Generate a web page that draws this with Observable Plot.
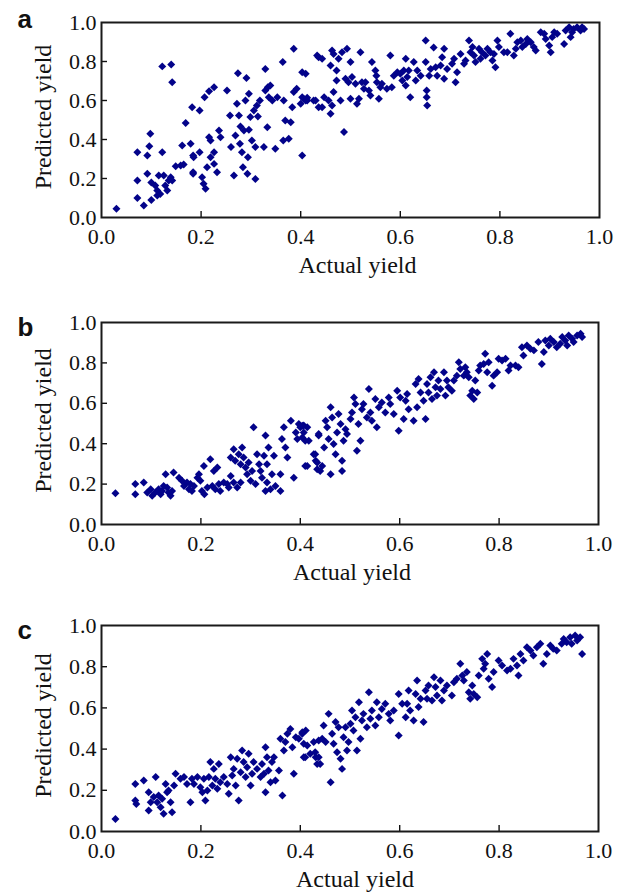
<!DOCTYPE html>
<html>
<head>
<meta charset="utf-8">
<script src="https://cdn.jsdelivr.net/npm/d3@7"></script>
<script src="https://cdn.jsdelivr.net/npm/@observablehq/plot@0.6"></script>
<style>
  html, body { margin: 0; padding: 0; background: #fff; }
  #wrap { position: relative; width: 623px; height: 892px; overflow: hidden; }
  .panel { position: absolute; left: 0; }
</style>
</head>
<body>
<div id="wrap"></div>
<script>
// ---------- data ----------
const tickValues = [0, 0.2, 0.4, 0.6, 0.8, 1.0];
const xTitle = "Actual yield";
const yTitle = "Predicted yield";
const panelLetters = ["a", "b", "c"];

const aActual = [0.03,0.072,0.072,0.072,0.085,0.092,0.092,0.098,0.096,0.10,0.10,0.108,0.112,0.115,0.122,0.122,0.14,0.142,0.125,0.128,0.132,0.135,0.139,0.142,0.112,0.118,0.149,0.159,0.165,0.162,0.169,0.179,0.182,0.184,0.184,0.184,0.185,0.197,0.197,0.202,0.205,0.209,0.207,0.216,0.226,0.216,0.219,0.212,0.219,0.226,0.232,0.236,0.239,0.226,0.252,0.258,0.26,0.266,0.269,0.272,0.274,0.276,0.278,0.279,0.282,0.284,0.291,0.286,0.289,0.293,0.296,0.294,0.299,0.296,0.302,0.306,0.309,0.312,0.309,0.314,0.318,0.326,0.329,0.329,0.333,0.334,0.336,0.339,0.343,0.349,0.353,0.364,0.366,0.365,0.369,0.376,0.38,0.383,0.386,0.386,0.392,0.40,0.403,0.406,0.41,0.413,0.43,0.433,0.436,
  0.403,0.403,0.41,0.413,0.426,0.436,0.443,0.443,0.447,0.456,0.46,0.463,0.46,0.463,0.466,0.466,0.472,0.472,0.476,0.48,0.483,0.487,0.49,0.493,0.496,0.50,0.50,0.503,0.51,0.513,0.517,0.52,0.523,0.527,0.53,0.537,0.54,0.543,0.55,0.552,0.553,0.557,0.56,0.563,0.573,0.58,0.583,0.587,0.594,0.60,0.604,0.607,0.611,0.611,0.614,0.617,0.62,0.627,0.631,0.634,0.641,0.651,0.651,0.653,0.653,0.654,0.658,0.661,0.667,0.671,0.674,0.681,0.684,0.688,0.688,0.694,0.704,0.708,0.711,0.714,0.721,0.728,0.731,0.738,0.741,0.745,0.748,0.751,0.758,0.761,0.764,0.771,0.775,0.781,0.785,0.788,0.791,0.795,0.798,0.808,0.815,0.821,0.828,0.832,0.835,0.842,0.845,0.852,0.855,0.862,0.868,0.872,0.882,0.889,0.892,0.899,0.902,0.905,0.909,0.915,0.929,0.932,0.939,0.942,0.945,0.948,0.955,0.962,0.965,0.969];
const aPredicted = [0.045,0.335,0.19,0.10,0.062,0.224,0.318,0.43,0.366,0.18,0.09,0.164,0.113,0.215,0.335,0.775,0.785,0.694,0.215,0.164,0.138,0.19,0.207,0.19,0.138,0.121,0.263,0.267,0.272,0.369,0.484,0.378,0.566,0.318,0.232,0.224,0.309,0.549,0.335,0.207,0.173,0.147,0.617,0.648,0.668,0.412,0.395,0.258,0.309,0.275,0.232,0.446,0.412,0.335,0.651,0.523,0.361,0.215,0.42,0.583,0.74,0.523,0.378,0.467,0.335,0.258,0.716,0.446,0.60,0.224,0.634,0.309,0.515,0.45,0.395,0.549,0.198,0.574,0.361,0.518,0.60,0.361,0.762,0.651,0.463,0.668,0.617,0.677,0.60,0.352,0.617,0.797,0.60,0.395,0.497,0.404,0.489,0.566,0.643,0.865,0.66,0.583,0.318,0.609,0.737,0.60,0.60,0.831,0.566,
  0.745,0.617,0.60,0.614,0.60,0.822,0.814,0.566,0.617,0.60,0.532,0.574,0.78,0.856,0.839,0.643,0.754,0.703,0.814,0.60,0.848,0.438,0.711,0.865,0.694,0.797,0.609,0.72,0.686,0.583,0.609,0.848,0.694,0.66,0.694,0.651,0.626,0.797,0.754,0.727,0.694,0.609,0.668,0.686,0.66,0.831,0.668,0.727,0.745,0.737,0.703,0.754,0.677,0.814,0.72,0.754,0.617,0.797,0.703,0.754,0.727,0.908,0.797,0.651,0.617,0.574,0.727,0.762,0.872,0.771,0.727,0.78,0.822,0.865,0.711,0.762,0.788,0.814,0.694,0.745,0.839,0.788,0.805,0.908,0.848,0.874,0.831,0.797,0.865,0.814,0.848,0.831,0.865,0.848,0.805,0.839,0.771,0.908,0.874,0.848,0.848,0.942,0.831,0.865,0.899,0.908,0.874,0.89,0.916,0.899,0.874,0.857,0.95,0.942,0.916,0.882,0.848,0.925,0.95,0.942,0.89,0.959,0.976,0.925,0.95,0.967,0.976,0.959,0.976,0.967];

const bActual = [0.028,0.068,0.068,0.085,0.092,0.099,0.102,0.108,0.115,0.119,0.122,0.125,0.129,0.132,0.135,0.139,0.142,0.145,0.156,0.162,0.166,0.172,0.176,0.179,0.182,0.186,0.193,0.196,0.199,0.202,0.206,0.207,0.213,0.219,0.223,0.226,0.229,0.233,0.236,0.239,0.246,0.253,0.256,0.26,0.26,0.266,0.266,0.269,0.273,0.276,0.28,0.28,0.283,0.286,0.29,0.293,0.296,0.30,0.303,0.306,0.31,0.313,0.317,0.32,0.323,0.327,0.33,0.33,0.333,0.333,0.336,0.34,0.343,0.347,0.35,0.36,0.36,0.363,0.367,0.37,0.374,0.381,0.387,0.391,0.394,0.397,0.40,0.404,0.407,0.41,0.414,0.417,0.427,0.431,0.434,0.437,
  0.404,0.407,0.41,0.414,0.43,0.434,0.437,0.44,0.444,0.448,0.451,0.454,0.457,0.461,0.461,0.464,0.467,0.471,0.474,0.477,0.481,0.484,0.484,0.487,0.491,0.494,0.501,0.504,0.508,0.511,0.514,0.517,0.521,0.524,0.527,0.534,0.538,0.541,0.544,0.551,0.554,0.558,0.564,0.571,0.578,0.581,0.588,0.595,0.598,0.601,0.608,0.612,0.615,0.618,0.628,0.632,0.635,0.638,0.642,0.648,0.652,0.655,0.658,0.662,0.665,0.669,0.672,0.675,0.678,0.682,0.689,0.692,0.695,0.698,0.705,0.709,0.715,0.719,0.722,0.729,0.732,0.735,0.739,0.742,0.746,0.749,0.752,0.756,0.759,0.762,0.769,0.772,0.776,0.779,0.786,0.789,0.796,0.799,0.806,0.813,0.819,0.823,0.833,0.839,0.846,0.849,0.856,0.863,0.87,0.879,0.886,0.89,0.893,0.90,0.903,0.91,0.916,0.923,0.927,0.933,0.937,0.94,0.947,0.95,0.957,0.964,0.967];
const bPredicted = [0.155,0.20,0.15,0.208,0.158,0.175,0.142,0.158,0.175,0.15,0.166,0.191,0.249,0.183,0.158,0.142,0.166,0.257,0.232,0.216,0.191,0.208,0.175,0.20,0.166,0.191,0.232,0.249,0.216,0.166,0.29,0.15,0.183,0.323,0.191,0.265,0.175,0.282,0.20,0.166,0.208,0.20,0.183,0.24,0.332,0.208,0.373,0.315,0.183,0.348,0.208,0.298,0.381,0.332,0.282,0.249,0.307,0.216,0.265,0.481,0.20,0.348,0.298,0.265,0.232,0.34,0.44,0.166,0.208,0.298,0.381,0.175,0.249,0.34,0.191,0.166,0.249,0.423,0.481,0.381,0.332,0.514,0.232,0.456,0.423,0.497,0.481,0.431,0.49,0.29,0.481,0.415,0.348,0.315,0.274,0.44,
  0.489,0.456,0.415,0.29,0.348,0.307,0.448,0.265,0.29,0.381,0.514,0.481,0.423,0.58,0.249,0.53,0.398,0.348,0.456,0.547,0.497,0.265,0.315,0.415,0.472,0.448,0.522,0.555,0.629,0.596,0.365,0.497,0.415,0.571,0.596,0.53,0.671,0.555,0.514,0.621,0.481,0.58,0.604,0.555,0.629,0.596,0.547,0.662,0.464,0.629,0.522,0.613,0.646,0.571,0.514,0.696,0.58,0.72,0.654,0.613,0.522,0.696,0.654,0.729,0.621,0.754,0.679,0.638,0.713,0.671,0.754,0.638,0.713,0.679,0.662,0.713,0.737,0.803,0.77,0.737,0.779,0.754,0.729,0.638,0.662,0.621,0.713,0.654,0.762,0.787,0.795,0.845,0.754,0.803,0.687,0.737,0.754,0.82,0.812,0.82,0.762,0.787,0.787,0.779,0.877,0.837,0.886,0.87,0.862,0.903,0.795,0.854,0.911,0.886,0.919,0.903,0.877,0.895,0.928,0.911,0.886,0.936,0.919,0.903,0.936,0.944,0.928];

const cActual = [0.028,0.068,0.068,0.07,0.085,0.095,0.095,0.099,0.105,0.109,0.112,0.115,0.119,0.122,0.125,0.129,0.132,0.135,0.139,0.142,0.146,0.149,0.159,0.166,0.172,0.179,0.182,0.186,0.193,0.199,0.203,0.206,0.209,0.213,0.216,0.219,0.223,0.226,0.229,0.233,0.236,0.239,0.246,0.253,0.256,0.26,0.263,0.266,0.27,0.273,0.276,0.28,0.283,0.286,0.29,0.293,0.296,0.30,0.303,0.306,0.313,0.32,0.323,0.327,0.33,0.33,0.333,0.336,0.34,0.343,0.347,0.35,0.357,0.36,0.364,0.367,0.37,0.374,0.38,0.384,0.387,0.391,0.397,0.404,0.407,0.411,0.414,0.42,0.427,0.431,0.434,0.437,
  0.404,0.407,0.41,0.43,0.437,0.44,0.444,0.447,0.451,0.457,0.461,0.464,0.467,0.471,0.474,0.477,0.481,0.484,0.487,0.491,0.494,0.497,0.501,0.504,0.507,0.511,0.514,0.518,0.521,0.524,0.527,0.534,0.538,0.541,0.544,0.551,0.554,0.558,0.564,0.571,0.578,0.581,0.588,0.598,0.598,0.605,0.612,0.615,0.618,0.621,0.628,0.632,0.635,0.638,0.642,0.648,0.652,0.655,0.658,0.665,0.669,0.672,0.675,0.682,0.685,0.689,0.695,0.705,0.709,0.715,0.722,0.726,0.729,0.735,0.739,0.742,0.746,0.749,0.756,0.759,0.766,0.769,0.772,0.776,0.779,0.786,0.789,0.799,0.806,0.816,0.823,0.829,0.836,0.839,0.843,0.849,0.856,0.863,0.869,0.876,0.883,0.889,0.896,0.903,0.909,0.916,0.926,0.93,0.936,0.943,0.946,0.953,0.957,0.963,0.967];
const cPredicted = [0.061,0.231,0.15,0.134,0.248,0.191,0.102,0.142,0.167,0.264,0.142,0.175,0.118,0.159,0.086,0.231,0.191,0.199,0.142,0.094,0.223,0.28,0.256,0.264,0.231,0.142,0.256,0.231,0.264,0.215,0.191,0.256,0.15,0.199,0.264,0.337,0.223,0.304,0.256,0.207,0.328,0.239,0.264,0.231,0.183,0.361,0.272,0.304,0.223,0.353,0.15,0.288,0.393,0.337,0.264,0.312,0.377,0.223,0.28,0.337,0.304,0.264,0.328,0.28,0.409,0.191,0.361,0.296,0.239,0.337,0.361,0.248,0.296,0.45,0.175,0.393,0.434,0.474,0.498,0.409,0.28,0.458,0.45,0.474,0.361,0.49,0.417,0.377,0.434,0.361,0.328,0.442,
  0.482,0.426,0.361,0.385,0.361,0.328,0.45,0.515,0.434,0.571,0.239,0.474,0.426,0.531,0.385,0.506,0.353,0.304,0.458,0.506,0.393,0.434,0.523,0.587,0.49,0.555,0.393,0.628,0.45,0.539,0.571,0.506,0.676,0.547,0.587,0.515,0.628,0.555,0.595,0.62,0.571,0.539,0.587,0.668,0.466,0.62,0.555,0.62,0.684,0.587,0.539,0.668,0.733,0.604,0.644,0.531,0.684,0.644,0.709,0.636,0.749,0.701,0.66,0.733,0.636,0.684,0.709,0.66,0.725,0.741,0.814,0.757,0.733,0.774,0.676,0.644,0.709,0.668,0.652,0.757,0.838,0.79,0.814,0.862,0.741,0.701,0.774,0.83,0.806,0.782,0.79,0.838,0.806,0.757,0.862,0.83,0.895,0.879,0.854,0.895,0.911,0.814,0.862,0.903,0.887,0.879,0.911,0.935,0.919,0.943,0.911,0.951,0.927,0.943,0.862];

// ---------- drawing ----------
const fmt = d3.format(".1f");
const markerColor = "#03038a";
const panels = [
  {letter: panelLetters[0], actual: aActual, predicted: aPredicted, top: 0,   height: 295, marginTop: 22, marginBottom: 78, marginRight: 24, letterDy: 5,  titleDx: 7},
  {letter: panelLetters[1], actual: bActual, predicted: bPredicted, top: 295, height: 300, marginTop: 27, marginBottom: 71, marginRight: 25, letterDy: 13, titleDx: 2},
  {letter: panelLetters[2], actual: cActual, predicted: cPredicted, top: 595, height: 297, marginTop: 30, marginBottom: 61, marginRight: 25, letterDy: 13, titleDx: 5}
];
const wrap = document.getElementById("wrap");
for (const p of panels) {
  const data = p.actual.map((a, i) => ({actual: a, predicted: p.predicted[i]}));
  const innerH = p.height - p.marginTop - p.marginBottom;
  const innerW = 623 - 101 - p.marginRight;
  const inner = tickValues.filter(t => t > 0 && t < 1);
  const chart = Plot.plot({
    width: 623,
    height: p.height,
    marginLeft: 101,
    marginRight: p.marginRight,
    marginTop: p.marginTop,
    marginBottom: p.marginBottom,
    x: {domain: [0, 1]},
    y: {domain: [0, 1]},
    style: {fontFamily: "'Liberation Serif', 'Times New Roman', serif", fontSize: "22px", color: "#111", background: "#fff", overflow: "visible"},
    marks: [
      Plot.dot(data, {x: "actual", y: "predicted", symbol: "diamond2", r: 3.6, fill: markerColor, stroke: "none"}),
      Plot.tickX(inner, {x: d => d, insetTop: innerH - 6, stroke: "#111", strokeWidth: 1.4}),
      Plot.tickY(inner, {y: d => d, insetRight: innerW - 6, stroke: "#111", strokeWidth: 1.4}),
      Plot.frame({stroke: "#1a1a1a", strokeWidth: 2}),
      Plot.axisX({ticks: tickValues, tickSize: 0, tickPadding: 11, tickFormat: fmt, label: null, fontSize: 22}),
      Plot.axisY({ticks: tickValues, tickSize: 0, tickPadding: 5, tickFormat: fmt, label: null, fontSize: 22}),
      Plot.text([xTitle], {text: d => d, frameAnchor: "bottom", dx: p.titleDx, dy: 55, lineAnchor: "bottom", fontSize: 24, fill: "#111"}),
      Plot.text([yTitle], {text: d => d, frameAnchor: "left", textAnchor: "middle", rotate: -90, dx: -51, dy: -3, lineAnchor: "bottom", fontSize: 24, fill: "#111"}),
      Plot.text([p.letter], {text: d => d, frameAnchor: "top-left", dx: -84, dy: p.letterDy, textAnchor: "start", lineAnchor: "bottom", fontSize: 26, fontWeight: "bold", fontFamily: "'Liberation Sans', Arial, sans-serif", fill: "#111"})
    ]
  });
  const div = document.createElement("div");
  div.className = "panel";
  div.style.top = p.top + "px";
  div.appendChild(chart);
  wrap.appendChild(div);
}
</script>
</body>
</html>
